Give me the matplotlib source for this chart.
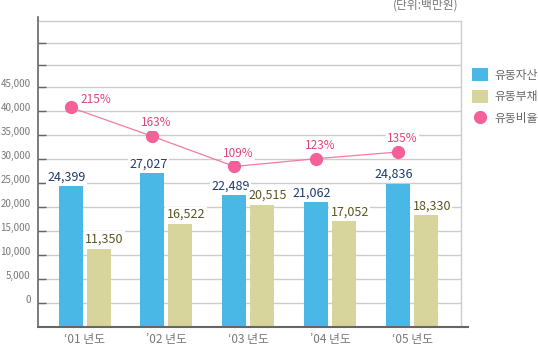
"""Current assets vs current liabilities with current ratio, '01-'05."""

import matplotlib

matplotlib.use("Agg")
import matplotlib.pyplot as plt
import matplotlib.transforms as mtransforms
import numpy as np
from matplotlib.lines import Line2D
from matplotlib.patches import Patch

plt.rcParams["font.family"] = ["Noto Sans CJK KR", "DejaVu Sans"]

years = ["‘01 년도", "’02 년도", "‘03 년도", "’04 년도", "‘05 년도"]
current_assets = [24399, 27027, 22489, 21062, 24836]
current_liabilities = [11350, 16522, 20515, 17052, 18330]
current_ratio = [215, 163, 109, 123, 135]
ytick_values = [0, 5000, 10000, 15000, 20000, 25000, 30000, 35000, 40000, 45000]

BLUE = "#4ab8e6"
OLIVE = "#d8d59c"
PINK = "#f5609a"
PINK_TEXT = "#e0447f"
GRID = "#cccccc"
AXIS = "#666666"

W, H = 538, 346
fig = plt.figure(figsize=(W / 100, H / 100), dpi=100)
ax = fig.add_axes([37.5 / W, 19 / H, (461 - 37.5) / W, (327 - 21) / H])

x = np.arange(len(years))
bar_w = 0.293
shift = 0.171
y_bottom = -5000

ax.bar(x - shift, np.array(current_assets) - y_bottom, bar_w, bottom=y_bottom, color=BLUE, zorder=3)
ax.bar(x + shift, np.array(current_liabilities) - y_bottom, bar_w, bottom=y_bottom, color=OLIVE, zorder=3)

ax.set_xlim(-0.575, 4.596)
ax.set_ylim(y_bottom, 58800)

# gridlines (labelled ones plus the unlabelled upper ones)
grid_levels = ytick_values + [49600, 54200]
ax.set_yticks(grid_levels)
ax.set_yticklabels([f"{v:,}" for v in ytick_values] + ["", ""])
ax.yaxis.grid(True, color=GRID, linewidth=1, zorder=0)
ax.tick_params(axis="y", direction="in", length=6, width=1, color=AXIS,
               labelsize=7, labelcolor="#777777", pad=5)
offset = mtransforms.ScaledTranslation(0, 4 / 100, fig.dpi_scale_trans)
for lab in ax.get_yticklabels():
    lab.set_transform(lab.get_transform() + offset)

ax.set_xticks(x)
ax.set_xticklabels(years)
ax.tick_params(axis="x", length=0, labelsize=8.5, labelcolor="#777777", pad=4)

for side in ["top", "right"]:
    ax.spines[side].set_color(GRID)
    ax.spines[side].set_linewidth(1)
ax.spines["left"].set_color(AXIS)
ax.spines["left"].set_linewidth(1.2)
ax.spines["bottom"].set_visible(False)
ax.plot([0, 1.017], [0, 0], transform=ax.transAxes, color=AXIS, linewidth=1.5, clip_on=False, zorder=5)
ax.plot([0, 0], [1, 1.013], transform=ax.transAxes, color=AXIS, linewidth=1.2, clip_on=False, zorder=5)

box = dict(facecolor="white", edgecolor="none", pad=1)
for xi, v in zip(x, current_assets):
    ax.annotate(f"{v:,}", (xi - shift, v), xytext=(-3, 2), textcoords="offset points",
                ha="center", va="bottom", fontsize=9, color="#1e3b6d", bbox=box, zorder=4)
for xi, v in zip(x, current_liabilities):
    ax.annotate(f"{v:,}", (xi + shift, v), xytext=(4, 2), textcoords="offset points",
                ha="center", va="bottom", fontsize=9, color="#5b5521", bbox=box, zorder=4)

# current ratio on its own scale
ax2 = ax.twinx()
ax2.set_ylim(-179, 370)
ax2.axis("off")
ax2.plot(x - shift, current_ratio, color="#f27aa8", linewidth=0.9, marker="o",
         markersize=8.5, markerfacecolor=PINK, markeredgecolor=PINK, zorder=6)
for i, (xi, r) in enumerate(zip(x, current_ratio)):
    dx, dy = (18, 1) if i == 0 else (3, 5)
    ax2.annotate(f"{r}%", (xi - shift, r), xytext=(dx, dy), textcoords="offset points",
                 ha="center", va="bottom", fontsize=8.5, color=PINK_TEXT, bbox=box, zorder=7)

handles = [
    Patch(facecolor=BLUE, edgecolor="none"),
    Patch(facecolor=OLIVE, edgecolor="none"),
    Line2D([], [], linestyle="none", marker="o", markersize=8.5, color=PINK),
]
fig.legend(handles, ["유동자산", "유동부채", "유동비율"], loc="upper left",
           bbox_to_anchor=(472 / W, 1 - 68 / H), frameon=False, fontsize=8.5,
           labelcolor="#666666", handlelength=1.36, handleheight=1.36,
           handletextpad=0.55, labelspacing=0.68, borderpad=0, borderaxespad=0)

fig.text(459 / W, 1 - 5 / H, "(단위:백만원)", ha="right", va="center", fontsize=8.5, color="#777777")

fig.savefig("out.png", dpi=100)
